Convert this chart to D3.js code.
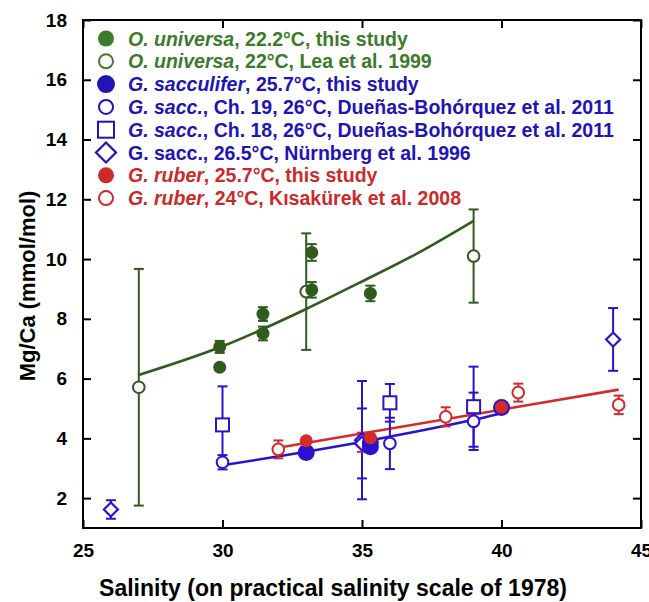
<!DOCTYPE html>
<html>
<head>
<meta charset="utf-8">
<script src="https://cdn.jsdelivr.net/npm/d3@7"></script>
<style>
  html, body { margin: 0; padding: 0; background: #fff; }
  svg { display: block; }
  text { font-family: "Liberation Sans", Arial, Helvetica, sans-serif; font-weight: bold; }
</style>
</head>
<body>
<svg id="chart" width="649" height="602"></svg>
<script>
// Mg/Ca vs salinity for planktonic foraminifera.
// Each record: [salinity, Mg/Ca (mmol/mol), error half-width]
const ouniStudy = [[29.9, 7.06, 0.20], [29.9, 6.38, 0.10], [31.45, 8.16, 0.23], [31.45, 7.51, 0.23],
                   [33.2, 10.22, 0.28], [33.2, 8.97, 0.26], [35.3, 8.85, 0.26]];
const ouniLea = [[27, 5.71, 3.96], [33, 8.91, 1.95], [39, 10.1, 1.56]];
const sacStudy = [[33, 3.53, 0], [35.3, 3.72, 0], [35.3, 3.86, 0], [40, 5.03, 0]];
const sacCh19 = [[30, 3.20, 0.24], [36, 3.83, 0.86], [39, 4.57, 0.96]];
const sacCh18 = [[30, 4.45, 1.29], [36, 5.19, 0.63], [39, 5.06, 1.34]];
const sacNurnberg = [[26, 1.62, 0.31], [35, 3.94, 1.98], [35, 3.83, 1.17], [44, 7.31, 1.05]];
const rubStudy = [[33, 3.92, 0], [35.3, 4.02, 0], [40, 5.04, 0]];
const rubKisakurek = [[32, 3.63, 0.30], [35, 3.87, 0.32], [38, 4.72, 0.32], [40.6, 5.53, 0.30], [44.2, 5.12, 0.31]];

// Fitted trend curves: [salinity, Mg/Ca]
const ouniFit = [[27, 6.12], [30, 7.08], [33, 8.33], [35, 9.25], [37, 10.2], [39, 11.28]];
const sacFit = [[30, 3.10], [33, 3.55], [35, 3.88], [37, 4.24], [39, 4.62], [40, 4.84]];
const rubFit = [[32.1, 3.70], [44.2, 5.63]];

// Axis ticks
const xTicks = [25, 30, 35, 40, 45];
const yTicks = [2, 4, 6, 8, 10, 12, 14, 16, 18];

const GREEN = "#2f5b1f", GREEN_L = "#3c7a2c";
const BLUE = "#2a12d0", BLUE_L = "#2214b4";
const RED = "#d42a2a", RED_L = "#cc2a2a";

const legendRows = [
  { it: "O. universa", rest: ", 22.2°C, this study", color: GREEN_L, shape: "fill", r: 8 },
  { it: "O. universa", rest: ", 22°C, Lea et al. 1999", color: GREEN_L, shape: "open", r: 7 },
  { it: "G. sacculifer", rest: ", 25.7°C, this study", color: BLUE_L, shape: "fill", r: 9 },
  { it: "G. sacc.", rest: ", Ch. 19, 26°C, Dueñas-Bohórquez et al. 2011", color: BLUE_L, shape: "open", r: 7 },
  { it: "G. sacc.", rest: ", Ch. 18, 26°C, Dueñas-Bohórquez et al. 2011", color: BLUE_L, shape: "square", r: 8 },
  { it: "", rest: "G. sacc., 26.5°C, Nürnberg et al. 1996", color: BLUE_L, shape: "diamond", r: 10 },
  { it: "G. ruber", rest: ", 25.7°C, this study", color: RED_L, shape: "fill", r: 8 },
  { it: "G. ruber", rest: ", 24°C, Kısakürek et al. 2008", color: RED_L, shape: "open", r: 7 }
];

const svg = d3.select("#chart");
const L = 83, R = 641, T = 20, B = 528;

const x = d3.scaleLinear().domain([25, 45]).range([L, R]);
const y = d3.scaleLinear().domain([1, 18]).range([B, T]);

// Frame
svg.append("rect").attr("x", L).attr("y", T).attr("width", R - L).attr("height", B - T)
  .attr("fill", "none").attr("stroke", "#000").attr("stroke-width", 2);

// Inward ticks on all four sides
const tickLen = 8;
const axB = d3.axisBottom(x).tickValues(xTicks).tickSize(-tickLen).tickPadding(16).tickFormat(d3.format("d"));
const axT = d3.axisTop(x).tickValues(xTicks).tickSize(-tickLen).tickFormat("");
const axL = d3.axisLeft(y).tickValues(yTicks).tickSize(-tickLen).tickPadding(16).tickFormat(d3.format("d"));
const axR = d3.axisRight(y).tickValues(yTicks).tickSize(-tickLen).tickFormat("");

function styleAxis(g) {
  g.select(".domain").remove();
  g.selectAll(".tick line").attr("stroke", "#000").attr("stroke-width", 2);
  g.selectAll(".tick text").attr("fill", "#000").style("font-size", "19px")
    .style("font-family", "'Liberation Sans', Arial, sans-serif").style("font-weight", "bold");
}
svg.append("g").attr("transform", `translate(0,${B})`).call(axB).call(styleAxis);
svg.append("g").attr("transform", `translate(0,${T})`).call(axT).call(styleAxis);
svg.append("g").attr("transform", `translate(${L},0)`).call(axL).call(styleAxis);
svg.append("g").attr("transform", `translate(${R},0)`).call(axR).call(styleAxis);

// Axis titles
svg.append("text").attr("x", 333).attr("y", 596).attr("text-anchor", "middle")
  .style("font-size", "23px").attr("fill", "#000")
  .text("Salinity (on practical salinity scale of 1978)");
svg.append("text").attr("transform", `translate(35,${(T + B) / 2 + 12}) rotate(-90)`)
  .attr("text-anchor", "middle").style("font-size", "22px").attr("fill", "#000")
  .text("Mg/Ca (mmol/mol)");

const plot = svg.append("g");

// Trend lines
const line = d3.line().x(d => x(d[0])).y(d => y(d[1])).curve(d3.curveMonotoneX);
[[ouniFit, GREEN], [sacFit, BLUE], [rubFit, RED]].forEach(([data, c]) => {
  plot.append("path").datum(data).attr("d", line).attr("fill", "none")
    .attr("stroke", c).attr("stroke-width", 2.6);
});

// Error bars
function errorBars(data, color) {
  const g = plot.append("g").attr("stroke", color).attr("stroke-width", 2);
  data.filter(d => d[2] > 0).forEach(d => {
    const cx = x(d[0]), y0 = y(d[1] - d[2]), y1 = y(d[1] + d[2]);
    g.append("line").attr("x1", cx).attr("x2", cx).attr("y1", y0).attr("y2", y1);
    g.append("line").attr("x1", cx - 5).attr("x2", cx + 5).attr("y1", y0).attr("y2", y0);
    g.append("line").attr("x1", cx - 5).attr("x2", cx + 5).attr("y1", y1).attr("y2", y1);
  });
}
errorBars(ouniLea, GREEN);
errorBars(ouniStudy, GREEN);
errorBars(sacCh18, BLUE);
errorBars(sacCh19, BLUE);
errorBars(sacNurnberg, BLUE);
errorBars(rubKisakurek, RED);

// Marker drawing
function marker(g, shape, cx, cy, r, color) {
  if (shape === "fill") {
    g.append("circle").attr("cx", cx).attr("cy", cy).attr("r", r).attr("fill", color);
  } else if (shape === "open") {
    g.append("circle").attr("cx", cx).attr("cy", cy).attr("r", r).attr("fill", "#fff")
      .attr("stroke", color).attr("stroke-width", 2);
  } else if (shape === "square") {
    g.append("rect").attr("x", cx - r).attr("y", cy - r).attr("width", 2 * r).attr("height", 2 * r)
      .attr("fill", "#fff").attr("stroke", color).attr("stroke-width", 2);
  } else if (shape === "diamond") {
    g.append("path").attr("d", `M${cx},${cy - r}L${cx + r},${cy}L${cx},${cy + r}L${cx - r},${cy}Z`)
      .attr("fill", "#fff").attr("stroke", color).attr("stroke-width", 2.2);
  }
}
function series(data, shape, r, color) {
  const g = plot.append("g");
  data.forEach(d => marker(g, shape, x(d[0]), y(d[1]), r, color));
}
series(ouniLea, "open", 5.8, GREEN);
series(ouniStudy, "fill", 6.5, GREEN);
series(sacCh18, "square", 6.5, BLUE);
series(sacCh19, "open", 5.8, BLUE);
series(rubKisakurek, "open", 5.8, RED);
series(sacNurnberg, "diamond", 7, BLUE);
series(sacStudy, "fill", 8.5, BLUE);
series(rubStudy, "fill", 6.5, RED);

// Legend
const leg = svg.append("g");
legendRows.forEach((row, i) => {
  const cy = 38.5 + i * 22.8;
  marker(leg, row.shape, 106, cy, row.r, row.color);
  const t = leg.append("text").attr("x", 128).attr("y", cy + 7).attr("fill", row.color)
    .style("font-size", "19.5px");
  if (row.it) t.append("tspan").style("font-style", "italic").text(row.it);
  t.append("tspan").text(row.rest);
});
</script>
</body>
</html>
